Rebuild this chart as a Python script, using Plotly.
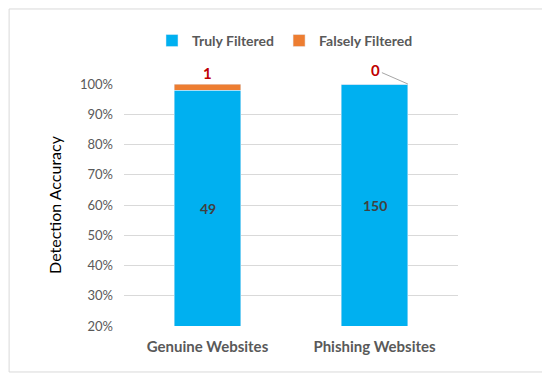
import plotly.graph_objects as go

categories = ["Genuine Websites", "Phishing Websites"]
truly_filtered = [49, 150]
falsely_filtered = [1, 0]
y_ticks = [20, 30, 40, 50, 60, 70, 80, 90, 100]

totals = [t + f for t, f in zip(truly_filtered, falsely_filtered)]
truly_pct = [100 * t / s for t, s in zip(truly_filtered, totals)]
false_pct = [100 * f / s for f, s in zip(falsely_filtered, totals)]

FONT = "Lato, Open Sans, sans-serif"
BLUE = "#00B0F0"
ORANGE = "#ED7D31"
GRAY = "#595959"

fig = go.Figure()
fig.add_trace(go.Bar(name="<b>Truly Filtered</b>", x=categories, y=truly_pct,
                     marker_color=BLUE, width=0.4, hoverinfo="skip"))
fig.add_trace(go.Bar(name="<b>Falsely Filtered</b>", x=categories, y=false_pct,
                     marker_color=ORANGE, width=0.4, hoverinfo="skip"))

ymin = y_ticks[0]
for i, (v, p) in enumerate(zip(truly_filtered, truly_pct)):
    fig.add_annotation(x=i, y=(ymin + p) / 2, text=f"<b>{v}</b>", showarrow=False,
                       font=dict(family=FONT, size=14, color="#404040"))

for i, (v, p) in enumerate(zip(falsely_filtered, false_pct)):
    top = truly_pct[i] + p
    if v > 0:
        fig.add_annotation(x=i, y=top, text=f"<b>{v}</b>", showarrow=False,
                           yanchor="bottom",
                           font=dict(family=FONT, size=15, color="#C00000"))
    else:
        fig.add_annotation(x=i + 0.2, y=top, text=f"<b>{v}</b>", showarrow=True,
                           arrowhead=0, arrowwidth=1, arrowcolor="#A6A6A6",
                           ax=-32, ay=-14, standoff=0,
                           font=dict(family=FONT, size=15, color="#C00000"))

# chart border
fig.add_shape(type="rect", xref="paper", yref="paper",
              x0=-0.344, x1=1.26, y0=-0.19, y1=1.31,
              line=dict(color="#D9D9D9", width=1), fillcolor="rgba(0,0,0,0)", layer="below")

fig.update_layout(
    barmode="stack",
    width=542, height=369,
    margin=dict(l=116, r=92, t=76, b=51),
    paper_bgcolor="white", plot_bgcolor="white",
    font=dict(family=FONT, color=GRAY),
    legend=dict(orientation="h", x=0.482, xanchor="center", y=1.178, yanchor="middle",
                font=dict(family=FONT, size=14, color=GRAY), traceorder="normal",
                itemwidth=30),
    xaxis=dict(showgrid=False, showline=False, ticks="", ticklabelstandoff=10,
               tickvals=categories, ticktext=[f"<b>{c}</b>" for c in categories],
               tickfont=dict(family=FONT, size=15, color=GRAY)),
    yaxis=dict(range=[ymin, 100], tickvals=y_ticks, ticktext=[f"{v}%" for v in y_ticks],
               showgrid=True, gridcolor="#D9D9D9", gridwidth=1,
               zeroline=False, showline=False, ticks="", ticklabelstandoff=10,
               tickfont=dict(family=FONT, size=13, color=GRAY),
               title=dict(text="Detection Accuracy", standoff=14,
                          font=dict(family=FONT, size=16, color="#000000"))),
)

fig.write_html("out.html")
